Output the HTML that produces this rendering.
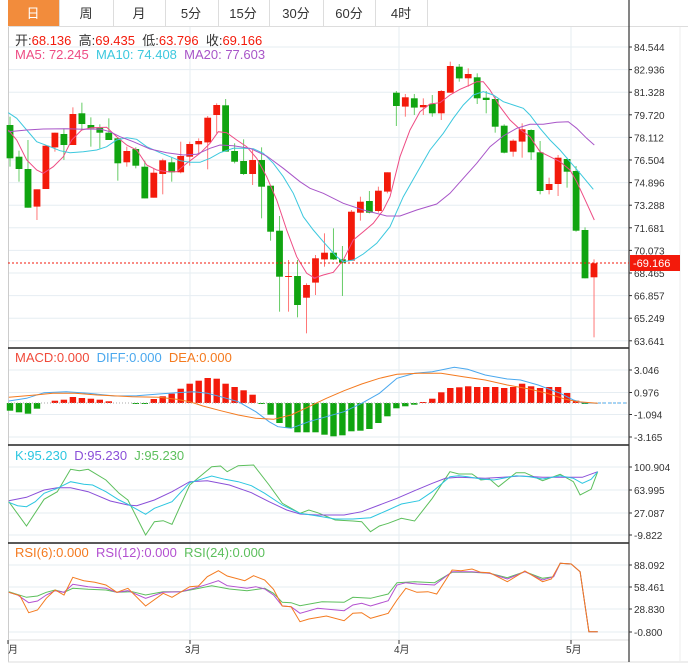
<!DOCTYPE html>
<html><head><meta charset="utf-8"><style>
body{margin:0;background:#fff;width:688px;height:668px;overflow:hidden;font-family:"Liberation Sans","Noto Sans CJK SC",sans-serif}
svg{position:absolute;left:0;top:0}
</style></head><body>
<svg id="s" width="688" height="668" xmlns="http://www.w3.org/2000/svg"></svg>
<script>
const s=document.getElementById('s');let h='';
const R='#f31a0b',G='#10a410';
function ln(x1,y1,x2,y2,c,w,d){h+=`<line x1="${x1}" y1="${y1}" x2="${x2}" y2="${y2}" stroke="${c}" stroke-width="${w||1}" ${d?`stroke-dasharray="${d}"`:''}/>`}
function tx(x,y,t,c,sz,a){h+=`<text x="${x}" y="${y}" fill="${c}" font-size="${sz||12}" ${a?`text-anchor="${a}"`:''}>${t}</text>`}
function pl(pts,c,w){h+=`<polyline fill="none" stroke="${c}" stroke-width="${w||1}" points="${pts.map(p=>p[0].toFixed(1)+','+p[1].toFixed(1)).join(' ')}"/>`}
h+=`<rect x="8" y="0" width="51" height="26" fill="#f28c3c"/>`;
ln(8,26.5,688,26.5,'#ddd');
[59,113,165,218,269,323,375,427].forEach(x=>ln(x+.5,0,x+.5,26,'#ddd'));
const tabs=[['日',33],['周',86],['月',139],['5分',191],['15分',243],['30分',296],['60分',349],['4时',401]];
tabs.forEach((t,i)=>tx(t[1],18,t[0],i?'#333':'#fff',13,'middle'));
for(let i=0;i<14;i++){let y=47+i*22.6;ln(8,y,628,y,'#e6edf2');}
[370,392.5,414.5,437].forEach(y=>ln(8,y,628,y,'#e6edf2'));
[467,490,513,535].forEach(y=>ln(8,y,628,y,'#e6edf2'));
[565,587,609,632].forEach(y=>ln(8,y,628,y,'#e6edf2'));
[190,399,571].forEach(x=>ln(x,27,x,640,'#e6edf2'));
ln(8.5,27,8.5,662,'#ccc');
[348,445,543].forEach(y=>ln(8,y,629,y,'#222',1.5));
ln(8,640,629,640,'#ddd');ln(8,662,688,662,'#ddd');
ln(629,0,629,662,'#333',1.2);
ln(680,27,680,662,'#eee');
const pl_=['84.544','82.936','81.328','79.720','78.112','76.504','74.896','73.288','71.681','70.073','68.465','66.857','65.249','63.641'];
pl_.forEach((t,i)=>{let y=47+i*22.6;ln(629,y,632,y,'#333');tx(634,y+4,t,'#333',10)});
[['3.046',370],['0.976',392.5],['-1.094',414.5],['-3.165',437]].forEach(a=>{ln(629,a[1],632,a[1],'#333');tx(634,a[1]+4,a[0],'#333',10)});
[['100.904',467],['63.995',490],['27.087',513],['-9.822',535]].forEach(a=>{ln(629,a[1],632,a[1],'#333');tx(634,a[1]+4,a[0],'#333',10)});
[['88.092',565],['58.461',587],['28.830',609],['-0.800',632]].forEach(a=>{ln(629,a[1],632,a[1],'#333');tx(634,a[1]+4,a[0],'#333',10)});
[['月',8],['3月',190],['4月',399],['5月',571]].forEach(a=>{ln(a[1],640,a[1],644,'#333');tx(a[1]-(a[0].length>1?5:0),653,a[0],'#333',10)});
const C=[['g',285,385,260,410],['g',380,417,362,455],['g',417,533,330,533],['r',478,530,478,570],['r',347,477,345,477],['r',308,352,308,365],['g',312,345,295,390],['r',252,345,232,345],['g',250,282,218,300],['g',285,295,262,350],['g',293,308,283,355],['g',308,330,265,330],['g',325,400,322,452],['r',363,397,350,410],['g',357,407,352,415],['g',410,505,392,505],['r',428,503,416,503],['r',391,432,386,493],['g',397,427,383,455],['r',378,427,335,430],['r',342,380,335,407],['r',333,343,325,370],['r',263,337,258,418],['r',225,255,220,310],['g',226,365,207,365],['g',363,395,340,400],['g',393,432,328,435],['r',390,432,360,465],['g',390,470,352,565],['g',467,605,467,632],['g',602,740,558,845],['r',738,741,690,845],['g',738,825,690,862],['r',765,803,760,910],['r',685,758,675,795],['r',668,688,610,710],['g',668,688,595,690],['g',688,698,648,798],['r',545,692,540,692],['r',515,548,500,572],['g',513,548,483,550],['r',482,543,470,548],['r',427,485,427,490],['g',188,228,183,288],['r',202,230,192,260],['g',205,233,192,255],['r',225,232,205,255],['g',222,250,195,260],['r',183,250,180,270],['r',108,188,95,188],['g',110,145,102,155],['r',132,145,115,170],['g',142,205,130,222],['g',203,210,183,250],['g',207,290,200,308],['g',287,368,283,370],['r',332,365,328,380],['r',298,335,280,383],['g',300,367,298,390],['g',367,483,333,493],['r',462,480,443,493],['r',383,462,375,498],['g',387,425,383,473],['g',423,602,408,605],['g',600,745,592,745],['r',700,742,688,922]];
const Y=v=>30+v/3, X=i=>10+8.985*i;
C.forEach((c,i)=>{let x=X(i),col=c[0]=='r'?R:G;
 ln(x,Y(c[3]),x,Y(c[4]),col==R?'#f77':'#6c6',1);
 h+=`<rect x="${(x-3.4).toFixed(1)}" y="${Y(c[1]).toFixed(1)}" width="6.8" height="${Math.max(1,(c[2]-c[1])/3).toFixed(1)}" fill="${col}"/>`});
function mz(a,b,off){return a.map(p=>[off+p[0]/3,30+p[1]/3]).concat(b.map(p=>[310+p[0]/3,30+p[1]/3]))}
pl(mz([[25,300],[50,330],[80,390],[110,420],[130,430],[160,410],[190,380],[215,330],[245,300],[275,293],[320,292],[350,320],[380,345],[410,360],[440,405],[470,420],[500,425],[530,425],[560,400],[600,370],[630,340],[655,305],[680,308],[710,330],[740,350],[770,385],[800,440],[830,510],[860,600],[890,680],[920,730],[945,745]],[[10,745],[40,735],[70,727],[100,690],[130,630],[160,605],[190,580],[220,540],[240,500],[270,380],[300,300],[330,245],[360,222],[390,218],[420,195],[450,178],[480,165],[500,155],[520,155],[540,180],[570,230],[600,270],[630,298],[660,320],[690,365],[720,380],[750,395],[780,420],[800,455],[830,520],[853,570]],0),'#ee4c84');
pl(mz([[25,248],[50,265],[80,300],[110,335],[150,350],[180,362],[210,368],[250,365],[290,360],[320,350],[350,330],[380,323],[410,328],[440,350],[480,368],[510,380],[540,392],[570,397],[600,397],[630,385],[660,368],[700,355],[730,355],[760,356],[790,370],[820,400],[850,440],[880,490],[910,560],[940,600]],[[10,600],[40,635],[80,680],[100,695],[130,690],[160,672],[200,640],[240,590],[280,500],[320,430],[360,360],[400,310],[430,265],[460,225],[490,195],[520,185],[550,195],[580,215],[610,225],[640,235],[660,255],[690,295],[720,330],[750,360],[780,395],[810,430],[850,478]],0),'#3cc8de');
pl(mz([[25,305],[80,300],[130,297],[200,296],[250,298],[300,297],[330,305],[360,320],[400,335],[450,357],[500,368],[550,375],[590,373],[630,355],[660,345],[700,347],[750,355],[800,378],[850,415],[900,455],[930,475]],[[0,475],[40,490],[100,520],[160,540],[230,558],[270,558],[320,540],[380,522],[420,490],[460,445],[500,400],[540,350],[580,318],[620,295],[660,283],[700,283],[740,277],[775,275],[800,295],[830,325],[853,345]],0),'#a855c8');
ln(8,263,629,263,R,1,'2,2');
h+=`<rect x="630" y="255" width="50" height="16" fill="${R}"/>`;tx(633,267,'-69.166','#fff',11);
h+=`<text x="15" y="45" font-size="13" fill="#333" xml:space="preserve">开:<tspan fill="${R}">68.136</tspan>  高:<tspan fill="${R}">69.435</tspan>  低:<tspan fill="${R}">63.796</tspan>  收:<tspan fill="${R}">69.166</tspan></text>`;
h+=`<text x="15" y="59" font-size="13" xml:space="preserve"><tspan fill="#ee4c84">MA5: 72.245</tspan>  <tspan fill="#3cc8de">MA10: 74.408</tspan>  <tspan fill="#a855c8">MA20: 77.603</tspan></text>`;
const M=[-23,-28,-32,-17,0,7,10,18,15,13,10,5,0,0,-3,-3,12,20,28,43,58,67,75,73,58,48,38,25,-3,-35,-60,-75,-88,-88,-88,-95,-100,-97,-85,-83,-78,-60,-40,-16,-10,-5,3,13,32,45,47,50,48,48,48,45,48,58,50,45,48,48,30,7,-3,0];
const z0=403;
M.forEach((v,i)=>{if(!v)return;let hh=Math.abs(v)/3;h+=`<rect x="${(X(i)-3.2).toFixed(1)}" y="${(v>0?z0-hh:z0).toFixed(1)}" width="6.4" height="${hh.toFixed(1)}" fill="${v>0?R:G}"/>`});
ln(8,z0,628,z0,'#aaa',1,'1,2');
const K2=(a,b)=>a.map(p=>[p[0]/2.267,b+p[1]/3]);
pl(K2([[20,183],[60,175],[100,158],[150,155],[200,160],[260,168],[310,167],[360,162],[400,158],[440,155],[470,160],[500,170],[540,185],[580,215],[610,245],[630,260],[660,265],[700,245],[740,230],[780,215],[820,190],[860,160],[900,115],[940,100],[980,95],[1030,82],[1060,88],[1100,105],[1150,117],[1180,120],[1220,135],[1270,160],[1300,180],[1320,188],[1355,190]],340),'#4aa8ee');
pl(K2([[20,172],[80,165],[120,160],[170,160],[220,165],[300,170],[360,172],[400,178],[430,185],[460,198],[500,212],[540,225],[580,235],[620,238],[660,225],[700,200],[740,175],[780,152],[820,132],[860,115],[900,103],[950,100],[1000,100],[1050,110],[1100,120],[1150,135],[1200,147],[1240,160],[1280,177],[1310,185],[1355,190]],340),'#f47a1f');
ln(598,403,628,403,'#4aa8ee',1,'3,2');
h+=`<text x="15" y="362" font-size="13" xml:space="preserve"><tspan fill="#f04a3a">MACD:0.000</tspan>  <tspan fill="#4aa8ee">DIFF:0.000</tspan>  <tspan fill="#f47a1f">DEA:0.000</tspan></text>`;
pl(K2([[20,185],[60,258],[100,178],[130,155],[160,88],[180,92],[200,88],[240,120],[270,160],[290,180],[330,285],[350,245],[370,242],[390,253],[430,135],[480,80],[500,78],[515,95],[540,77],[575,75],[610,135],[640,190],[680,220],[700,210],[720,218],[760,240],[800,243],[820,245],[840,275],[860,258],[880,250],[910,235],[940,243],[980,175],[1020,95],[1040,102],[1070,102],[1090,120],[1110,117],[1130,140],[1170,98],[1190,98],[1230,122],[1270,103],[1300,125],[1315,165],[1340,148],[1355,95]],440),'#5cbf5c');
pl(K2([[20,182],[60,172],[100,150],[130,143],[160,143],[200,155],[250,183],[290,195],[310,197],[350,180],[390,155],[430,125],[470,122],[520,135],[570,158],[610,185],[650,210],[680,222],[720,225],[780,225],[820,215],[860,195],[900,175],[940,152],[980,130],[1010,115],[1040,112],[1100,115],[1140,112],[1180,108],[1230,112],[1290,112],[1320,112],[1355,95]],440),'#8a4fd8');
pl(K2([[20,187],[40,197],[60,200],[80,185],[100,160],[130,145],[160,125],[190,133],[210,135],[240,155],[270,180],[290,193],[330,223],[350,205],[390,185],[430,128],[480,108],[510,118],[540,125],[570,137],[600,160],[640,195],[680,220],[720,228],[760,237],[800,237],[840,233],[880,210],[910,192],[950,182],[980,155],[1020,110],[1040,107],[1060,110],[1090,117],[1120,120],[1170,107],[1200,110],[1230,117],[1270,107],[1300,115],[1320,130],[1340,118],[1355,95]],440),'#2cc6e0');
h+=`<text x="15" y="460" font-size="13" xml:space="preserve"><tspan fill="#2cc6e0">K:95.230</tspan>  <tspan fill="#8a4fd8">D:95.230</tspan>  <tspan fill="#5cbf5c">J:95.230</tspan></text>`;
pl(K2([[20,155],[60,172],[85,168],[105,157],[125,150],[145,157],[165,145],[200,148],[240,150],[265,157],[300,155],[330,165],[370,155],[410,155],[440,148],[480,137],[520,147],[560,152],[600,145],[620,160],[640,187],[660,188],[680,197],[730,185],[780,187],[800,172],[840,175],[880,162],[900,128],[940,125],[985,128],[1025,97],[1070,97],[1110,100],[1150,113],[1190,95],[1230,115],[1255,110],[1270,70],[1295,72],[1315,95],[1335,275],[1355,275]],540),'#5cbf5c');
pl(K2([[20,157],[40,165],[65,188],[85,183],[105,165],[125,152],[145,157],[165,133],[200,140],[240,145],[265,157],[290,152],[330,175],[370,157],[410,155],[440,145],[470,133],[495,122],[515,137],[560,145],[580,140],[600,147],[620,165],[640,198],[660,200],[680,220],[720,205],[780,212],[800,195],[820,190],[840,198],[880,182],[900,135],[920,128],[945,132],[985,135],[1025,95],[1070,95],[1110,100],[1150,117],[1190,95],[1230,120],[1255,110],[1270,70],[1295,72],[1315,95],[1335,275],[1355,275]],540),'#b350d0');
pl(K2([[20,157],[45,167],[65,218],[85,210],[105,175],[125,150],[145,165],[165,112],[190,122],[215,127],[240,135],[265,157],[290,145],[330,198],[370,160],[390,172],[430,140],[450,138],[470,110],[495,92],[515,108],[555,122],[575,107],[600,120],[620,148],[640,198],[660,200],[680,245],[700,237],[740,228],[780,242],[800,220],[820,218],[840,235],[880,220],[900,180],[920,145],[945,157],[970,155],[990,162],[1025,90],[1045,92],[1070,87],[1090,97],[1110,98],[1150,125],[1190,93],[1230,125],[1250,117],[1270,70],[1295,72],[1315,95],[1335,275],[1355,275]],540),'#f47a1f');
h+=`<text x="15" y="557" font-size="13" xml:space="preserve"><tspan fill="#f47a1f">RSI(6):0.000</tspan>  <tspan fill="#b350d0">RSI(12):0.000</tspan>  <tspan fill="#5cbf5c">RSI(24):0.000</tspan></text>`;
s.innerHTML=h;
</script>
</body></html>
